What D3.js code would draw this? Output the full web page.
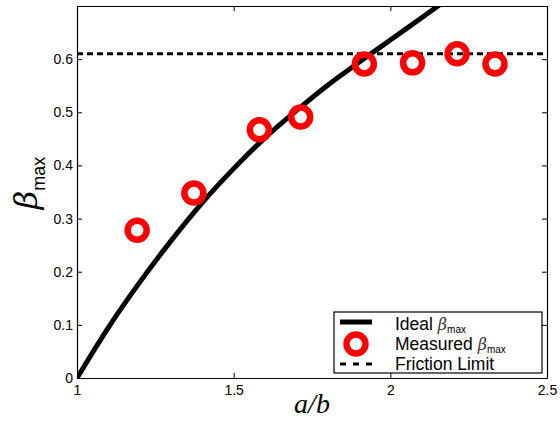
<!DOCTYPE html>
<html>
<head>
<meta charset="utf-8">
<script src="https://cdn.jsdelivr.net/npm/d3@7"></script>
<style>
  body { margin: 0; background: #fff; }
  svg { display: block; }
</style>
</head>
<body>
<svg width="560" height="430"></svg>
<script>
// data
let idealX = [1.0, 1.1, 1.2, 1.3, 1.4, 1.5, 1.6, 1.7, 1.8, 1.9, 2.0, 2.1, 2.2];
let idealY = [0, 0.095, 0.18, 0.258, 0.33, 0.394, 0.452, 0.503, 0.551, 0.594, 0.636, 0.678, 0.72];
let measX = [1.192, 1.373, 1.582, 1.714, 1.917, 2.071, 2.213, 2.334];
let measY = [0.278, 0.348, 0.467, 0.491, 0.591, 0.593, 0.610, 0.591];
let frictionLimit = 0.61;
let xTicks = [1, 1.5, 2, 2.5];
let yTicks = [0, 0.1, 0.2, 0.3, 0.4, 0.5, 0.6];

let svg = d3.select("svg");
let m = { left: 77, right: 547, top: 6, bottom: 378 };

let x = d3.scaleLinear().domain([1, 2.5]).range([m.left, m.right]);
let y = d3.scaleLinear().domain([0, 0.7]).range([m.bottom, m.top]);

let font = "'Liberation Sans', Arial, Helvetica, sans-serif";

svg.append("clipPath").attr("id", "clip")
    .append("rect")
    .attr("x", m.left).attr("y", m.top)
    .attr("width", m.right - m.left).attr("height", m.bottom - m.top);

// --- axes (ticks point inward, matlab style) ---
let fmtY = d => d === 0 ? "0" : d.toFixed(1);

svg.append("g")
    .attr("transform", `translate(${m.left},0)`)
    .call(d3.axisLeft(y).tickValues(yTicks).tickFormat(fmtY).tickSizeInner(-5).tickSizeOuter(0).tickPadding(4));
svg.append("g")
    .attr("transform", `translate(0,${m.bottom})`)
    .call(d3.axisBottom(x).tickValues(xTicks).tickFormat(d => String(d)).tickSizeInner(-5).tickSizeOuter(0).tickPadding(7));
svg.append("g")
    .attr("transform", `translate(${m.right},0)`)
    .call(d3.axisRight(y).tickValues(yTicks).tickFormat("").tickSizeInner(-5).tickSizeOuter(0));
svg.append("g")
    .attr("transform", `translate(0,${m.top})`)
    .call(d3.axisTop(x).tickValues(xTicks).tickFormat("").tickSizeInner(-5).tickSizeOuter(0));

svg.selectAll(".domain").attr("stroke", "#000").attr("stroke-width", 1.2);
svg.selectAll(".tick line").attr("stroke", "#000");
svg.selectAll(".tick text")
    .style("font-family", font)
    .style("font-size", "14px")
    .attr("fill", "#000");

// --- friction limit ---
svg.append("line")
    .attr("x1", x(1)).attr("x2", x(2.5))
    .attr("y1", y(frictionLimit)).attr("y2", y(frictionLimit))
    .attr("stroke", "#000")
    .attr("stroke-width", 3)
    .attr("stroke-dasharray", "6,4");

// --- ideal curve ---
let line = d3.line()
    .x(d => x(d[0]))
    .y(d => y(d[1]))
    .curve(d3.curveMonotoneX);

svg.append("path")
    .datum(d3.zip(idealX, idealY))
    .attr("clip-path", "url(#clip)")
    .attr("d", line)
    .attr("fill", "none")
    .attr("stroke", "#000")
    .attr("stroke-width", 5);

// --- measured ---
svg.append("g")
    .selectAll("circle")
    .data(d3.zip(measX, measY))
    .enter()
    .append("circle")
    .attr("cx", d => x(d[0]))
    .attr("cy", d => y(d[1]))
    .attr("r", 9.5)
    .attr("fill", "none")
    .attr("stroke", "#ff0000")
    .attr("stroke-width", 6.5);

// --- axis labels ---
let yl = svg.append("text")
    .attr("transform", "translate(37,183) rotate(-90)")
    .attr("text-anchor", "middle")
    .attr("fill", "#000");
yl.append("tspan")
    .style("font-family", "'DejaVu Serif', 'Liberation Serif', serif")
    .style("font-style", "italic")
    .style("font-size", "32px")
    .text("β");
yl.append("tspan")
    .attr("dy", 8)
    .style("font-family", font)
    .style("font-size", "18px")
    .text("max");

svg.append("text")
    .attr("x", (m.left + m.right) / 2)
    .attr("y", 413)
    .attr("text-anchor", "middle")
    .style("font-family", "'Liberation Serif', 'DejaVu Serif', serif")
    .style("font-style", "italic")
    .style("font-size", "28px")
    .text("a/b");

// --- legend ---
let lg = svg.append("g");
lg.append("rect")
    .attr("x", 334).attr("y", 312)
    .attr("width", 208).attr("height", 61)
    .attr("fill", "#fff")
    .attr("stroke", "#000")
    .attr("stroke-width", 1.2);

lg.append("line")
    .attr("x1", 340).attr("x2", 372).attr("y1", 322).attr("y2", 322)
    .attr("stroke", "#000").attr("stroke-width", 5);
lg.append("circle")
    .attr("cx", 356).attr("cy", 344).attr("r", 9.5)
    .attr("fill", "none").attr("stroke", "#ff0000").attr("stroke-width", 6.5);
lg.append("line")
    .attr("x1", 340).attr("x2", 372).attr("y1", 364).attr("y2", 364)
    .attr("stroke", "#000").attr("stroke-width", 3)
    .attr("stroke-dasharray", "6,7");

let legendItems = [["Ideal ", true], ["Measured ", true], ["Friction Limit", false]];
legendItems.forEach((it, i) => {
    let t = lg.append("text")
        .attr("x", 395)
        .attr("y", 330 + i * 20)
        .attr("fill", "#000")
        .style("font-family", font)
        .style("font-size", "17.5px");
    t.append("tspan").text(it[0]);
    if (it[1]) {
        t.append("tspan")
            .style("font-family", "'DejaVu Serif', 'Liberation Serif', serif")
            .style("font-style", "italic")
            .style("font-size", "16px")
            .attr("fill", "#333")
            .text("β");
        t.append("tspan")
            .attr("dy", 3)
            .style("font-size", "10px")
            .text("max");
    }
});
</script>
</body>
</html>
